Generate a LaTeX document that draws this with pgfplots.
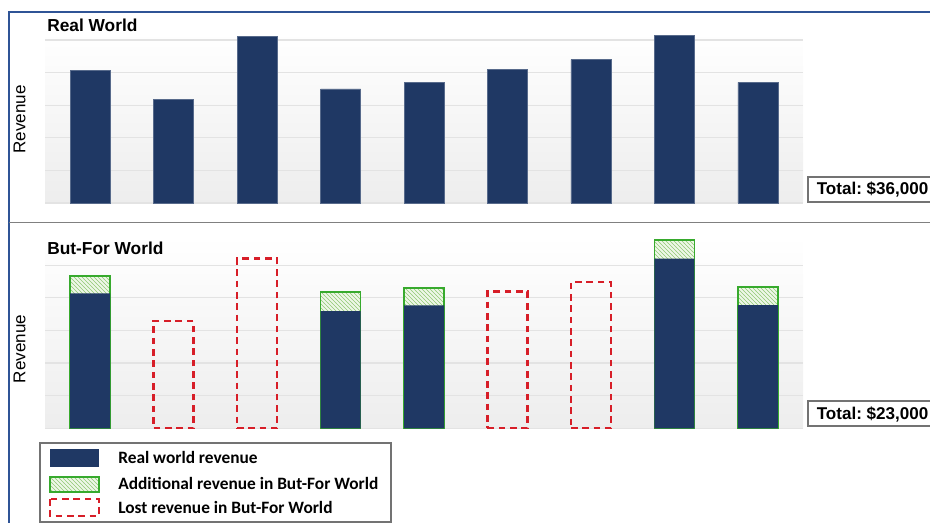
\documentclass[border=0pt]{standalone}
\usepackage{pgfplots}
\usepackage{pgfplotstable}
\pgfplotsset{compat=1.18}
\usetikzlibrary{patterns}
\usepackage{fontspec}
\setmainfont{Liberation Sans}
\newfontfamily\calibri{Carlito}
\frenchspacing

\definecolor{navy}{HTML}{1F3864}
\definecolor{frameblue}{HTML}{2F5496}
\definecolor{grn}{RGB}{55,170,45}
\definecolor{hatch}{RGB}{145,200,115}
\definecolor{lightgrn}{RGB}{238,247,232}
\definecolor{redd}{RGB}{215,30,40}

% Real world (top panel)
\pgfplotstableread{
x real
0 4.06
1 3.19
2 5.11
3 3.50
4 3.70
5 4.10
6 4.40
7 5.15
8 3.70
}\realtop

% But-For world: bars kept, real part
\pgfplotstableread{
x real
0 4.14
3 3.59
4 3.77
7 5.20
8 3.78
}\keptreal

% But-For world: total (real + additional)
\pgfplotstableread{
x total
0 4.68
3 4.18
4 4.31
7 5.78
8 4.33
}\kepttotal

% But-For world: lost revenue
\pgfplotstableread{
x lost
1 3.29
2 5.21
5 4.19
6 4.48
}\lost

\pgfplotsset{
  panel/.style={
    anchor=south west, scale only axis,
    width=568.5pt,
    xmin=-0.54, xmax=8.54, ymin=0,
    axis line style={draw=none},
    xtick=\empty, ytick={0,1,2,3,4,5}, yticklabels={},
    major tick length=0pt,
    ymajorgrids, grid style={draw=black!11, line width=0.9pt},
    axis background/.style={top color=white, bottom color=black!7},
    clip=false,
  },
  mybar/.style={ybar, bar width=30pt, bar shift=0pt},
}

\begin{document}
\begin{tikzpicture}[x=0.75pt, y=-0.75pt]
\useasboundingbox (0,0) rectangle (930,523);
\clip (0,0) rectangle (930,523);

% ---------- top panel ----------
\begin{axis}[panel, at={(33.75pt,-152.25pt)}, height=128.36pt, ymax=5.25]
  \addplot[mybar, fill=navy, draw=navy!75!white, line width=0.4pt] table[x=x,y=real]{\realtop};
\end{axis}

% ---------- bottom panel ----------
\begin{axis}[panel, at={(33.75pt,-321.2pt)}, height=144.26pt, ymax=5.9]
  \addplot[mybar, fill=lightgrn, draw=none] table[x=x,y=total]{\kepttotal};
  \addplot[mybar, pattern=north west lines, pattern color=hatch, draw=grn, line width=1.3pt] table[x=x,y=total]{\kepttotal};
  \addplot[mybar, fill=navy, draw=none] table[x=x,y=real]{\keptreal};
  \addplot[mybar, fill=none, draw=redd, line width=1.8pt, dash pattern=on 5pt off 3.5pt] table[x=x,y=lost]{\lost};
\end{axis}

% ---------- frame ----------
\draw[frameblue, line width=1.5pt] (9,530) -- (9,12) -- (935,12);
\draw[black!50, line width=1.3pt] (9,222.5) -- (935,222.5);

% ---------- titles ----------
\node[anchor=base west, inner sep=0pt, font=\fontsize{13pt}{15pt}\selectfont\bfseries] at (47,31.7) {Real World};
\node[anchor=base west, inner sep=0pt, font=\fontsize{13pt}{15pt}\selectfont\bfseries] at (47,254.3) {But-For World};
\node[rotate=90, inner sep=0pt, font=\fontsize{12.8pt}{15pt}\selectfont] at (19.5,119.5) {Revenue};
\node[rotate=90, inner sep=0pt, font=\fontsize{12.8pt}{15pt}\selectfont] at (19.5,349) {Revenue};

% ---------- totals ----------
\draw[black!55, line width=0.8pt, fill=white] (808,177) rectangle (945,202);
\node[anchor=base west, inner sep=0pt, font=\fontsize{12.8pt}{15pt}\selectfont\bfseries] at (816.5,195) {Total: \$36,000};
\draw[black!55, line width=0.8pt, fill=white] (808,401) rectangle (945,426);
\node[anchor=base west, inner sep=0pt, font=\fontsize{12.8pt}{15pt}\selectfont\bfseries] at (816.5,419) {Total: \$23,000};

% ---------- legend ----------
\draw[black!55, line width=0.8pt, fill=white] (40,443) rectangle (391,522);
\fill[navy] (50,449) rectangle (99,467);
\fill[lightgrn] (50,477) rectangle (99,492);
\draw[grn, line width=1.3pt, pattern=north west lines, pattern color=hatch] (50,477) rectangle (99,492);
\draw[redd, line width=1.8pt, dash pattern=on 5pt off 3.5pt] (50,499) rectangle (99,516);
\node[anchor=base west, inner sep=0pt, font=\calibri\fontsize{13pt}{15pt}\selectfont\bfseries] at (118,463.3) {Real world revenue};
\node[anchor=base west, inner sep=0pt, font=\calibri\fontsize{13pt}{15pt}\selectfont\bfseries] at (118,489) {Additional revenue in But-For World};
\node[anchor=base west, inner sep=0pt, font=\calibri\fontsize{13pt}{15pt}\selectfont\bfseries] at (118,513.3) {Lost revenue in But-For World};
\end{tikzpicture}
\end{document}
